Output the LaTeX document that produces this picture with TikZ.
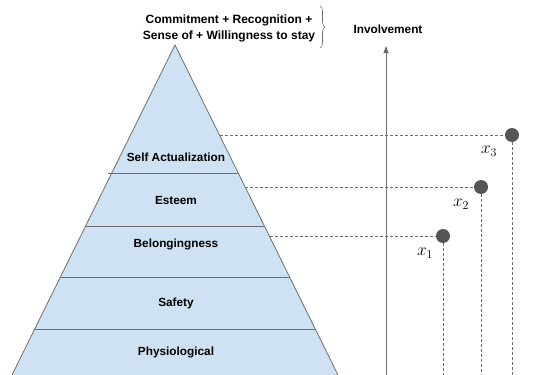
\documentclass[tikz,border=0pt]{standalone}
\usepackage{fontspec}
\setmainfont{Liberation Sans}
\usetikzlibrary{decorations.pathreplacing,arrows.meta}
\definecolor{pyrfill}{RGB}{207,226,243}
\definecolor{pyrline}{RGB}{110,110,110}
\definecolor{dotgray}{RGB}{85,85,85}
\tikzset{
  lvl/.style={font=\bfseries\fontsize{11.8}{14}\selectfont, inner sep=0pt},
  band/.style={draw=pyrline, line width=0.8pt},
  guide/.style={draw=pyrline, dashed, dash pattern=on 3pt off 2pt, line width=0.6pt},
  dot/.style={circle, fill=dotgray, minimum size=14pt, inner sep=0pt},
  xlab/.style={font=\fontsize{17}{20}\selectfont, inner sep=0pt},
}
\begin{document}
\begin{tikzpicture}[x=1pt,y=-1pt]
\useasboundingbox (0,0) rectangle (544,375);
% pyramid
\coordinate (apex) at (175,45);
\coordinate (bl) at (12,375);
\coordinate (br) at (338,375);
\fill[pyrfill] (apex) -- (bl) -- (br) -- cycle;
\draw[band] (bl) -- (apex) -- (br);
\draw[band] (108,173) -- (238.2,173);
\draw[band] (85.6,226) -- (264.4,226);
\draw[band] (60.4,277) -- (289.6,277);
\draw[band] (34.7,329) -- (315.3,329);
\node[lvl] (sa) at (176,157) {Self Actualization};
\node[lvl] (es) at (176,200) {Esteem};
\node[lvl] (be) at (176,244) {Belongingness};
\node[lvl] (sf) at (176,303) {Safety};
\node[lvl] (ph) at (176,352) {Physiological};
% top text
\node[lvl, align=center, font=\bfseries\fontsize{12}{16}\selectfont] (top) at (229,28) {Commitment + Recognition +\\Sense of + Willingness to stay};
\coordinate (bt) at (320,6);
\coordinate (bb) at (320,48);
\draw[pyrline, line width=0.6pt, decorate, decoration={brace, amplitude=5pt}] (bt) -- (bb);
% axis
\coordinate (ax0) at (386,375);
\coordinate (ax1) at (386,46);
\draw[pyrline, line width=0.8pt, -{Triangle[length=7pt,width=5pt]}] (ax0) -- (ax1);
\node[lvl] (inv) at (388,29) {Involvement};
% points
\node[dot] (p3) at (512,135) {};
\node[dot] (p2) at (481,187) {};
\node[dot] (p1) at (443,236) {};
\coordinate (e3) at (220,135);
\coordinate (e2) at (245,187);
\coordinate (e1) at (270,236);
\coordinate (b3) at (512,375);
\coordinate (b2) at (481,375);
\coordinate (b1) at (443,375);
\draw[guide] (e3) -- (p3);
\draw[guide] (e2) -- (p2);
\draw[guide] (e1) -- (p1);
\draw[guide] (p3) -- (b3);
\draw[guide] (p2) -- (b2);
\draw[guide] (p1) -- (b1);
\node[xlab] (l3) at (489,151) {$x_{3}$};
\node[xlab] (l2) at (461,204) {$x_{2}$};
\node[xlab] (l1) at (425,253) {$x_{1}$};
\end{tikzpicture}
\end{document}
